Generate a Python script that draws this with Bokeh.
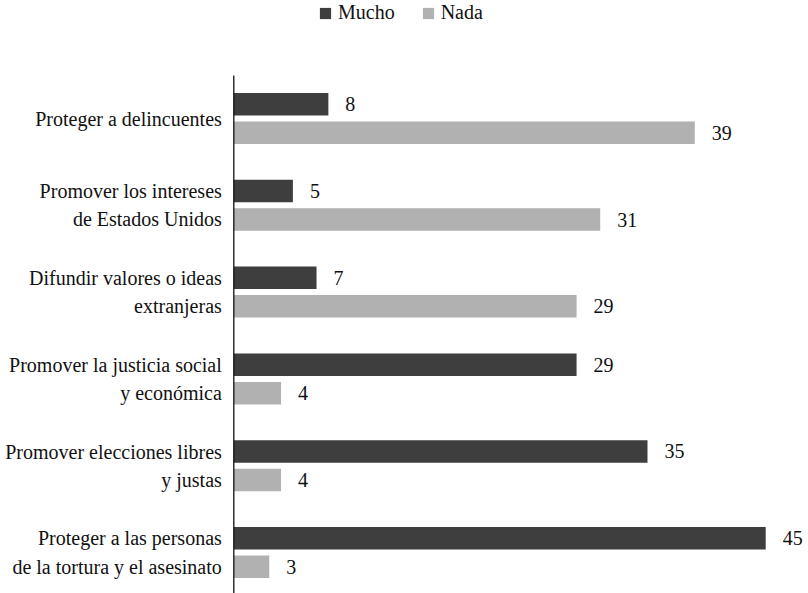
from bokeh.plotting import figure
from bokeh.models import ColumnDataSource, Range1d, Legend, LegendItem
from bokeh.core.properties import value
from bokeh.embed import file_html
from bokeh.resources import INLINE

categories = [
    "Proteger a delincuentes",
    "Promover los intereses\nde Estados Unidos",
    "Difundir valores o ideas\nextranjeras",
    "Promover la justicia social\ny económica",
    "Promover elecciones libres\ny justas",
    "Proteger a las personas\nde la tortura y el asesinato",
]
mucho = [8, 5, 7, 29, 35, 45]
nada = [39, 31, 29, 4, 4, 3]
series_names = ["Mucho", "Nada"]

FONT = "Liberation Serif"
C_MUCHO = "#3e3e3e"
C_NADA = "#b1b1b1"
TXT = "#111111"

idx = list(range(len(categories)))
off = 0.164
bh = 0.259

src_m = ColumnDataSource(dict(y=[i - off for i in idx], v=mucho, t=[str(v) for v in mucho]))
src_n = ColumnDataSource(dict(y=[i + off for i in idx], v=nada, t=[str(v) for v in nada]))
src_c = ColumnDataSource(dict(y=idx, x=[0] * len(idx), t=categories))

W, H = 808, 593
x0 = -233.3 / 11.82
y_top = -118 / 86.8
p = figure(width=W, height=H, output_backend="svg", toolbar_location=None,
           x_range=Range1d(x0, x0 + W / 11.82), y_range=Range1d(y_top + H / 86.8, y_top),
           min_border=0, outline_line_color=None,
           x_axis_location=None, y_axis_location=None)
p.xgrid.visible = False
p.ygrid.visible = False

r_m = p.hbar(y="y", right="v", left=0, height=bh, source=src_m, fill_color=C_MUCHO, line_color=None)
r_n = p.hbar(y="y", right="v", left=0, height=bh, source=src_n, fill_color=C_NADA, line_color=None)

# axis line
p.segment(x0=[0], y0=[-0.495], x1=[0], y1=[6.5], line_color="#111111", line_width=1.3)

# value labels
for s in (src_m, src_n):
    p.text(x="v", y="y", text="t", source=s, x_offset=17, text_align="left",
           text_baseline="middle", text_font=value(FONT), text_font_size="20px",
           text_color=TXT)

# category labels
p.text(x="x", y="y", text="t", source=src_c, x_offset=-12, text_align="right",
       text_baseline="middle", text_font=value(FONT), text_font_size="20px",
       text_color=TXT, text_line_height=1.29)

legend = Legend(items=[LegendItem(label=series_names[0], renderers=[r_m]),
                       LegendItem(label=series_names[1], renderers=[r_n])],
                orientation="horizontal", location=(318, H - 24),
                glyph_width=14, glyph_height=14, label_standoff=6, spacing=26,
                padding=0, margin=0, border_line_color=None, background_fill_alpha=0,
                label_text_font=FONT, label_text_font_size="20px", label_text_color=TXT,
                label_height=14)
p.add_layout(legend)

open("out.html", "w").write(file_html(p, INLINE))
